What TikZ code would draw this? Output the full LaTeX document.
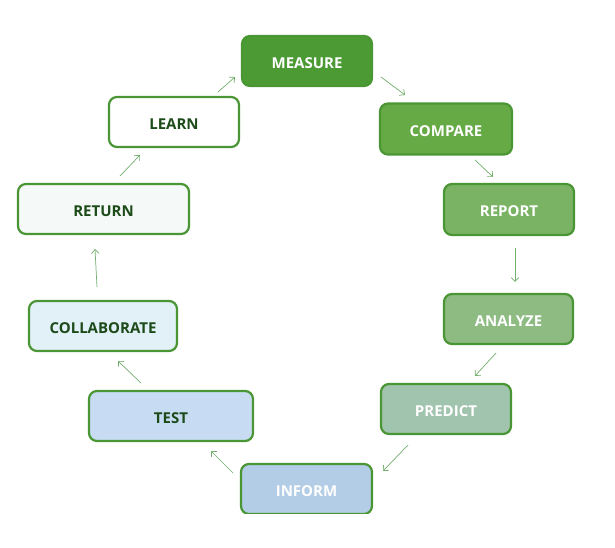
\documentclass[tikz,border=0pt]{standalone}
\usepackage{fontspec}
\setmainfont{Open Sans}
\usetikzlibrary{arrows.meta}
\definecolor{bordergreen}{HTML}{4A9634}
\definecolor{arrowgreen}{HTML}{72AE6C}
\definecolor{darktext}{HTML}{1C4A18}
\definecolor{cMeasure}{HTML}{4B9A33}
\definecolor{cCompare}{HTML}{66AA45}
\definecolor{cReport}{HTML}{7AB363}
\definecolor{cAnalyze}{HTML}{8DBB82}
\definecolor{cPredict}{HTML}{A0C4AE}
\definecolor{cInform}{HTML}{B3CDE6}
\definecolor{cTest}{HTML}{C7DCF3}
\definecolor{cCollab}{HTML}{E2F0F8}
\definecolor{cReturn}{HTML}{F5FAF8}
\definecolor{cLearn}{HTML}{FFFFFF}
\tikzset{
  stagebox/.style={draw=bordergreen, line width=2.2pt, rounded corners=8pt,
    inner sep=0pt, text height=14.5pt, text depth=0pt,
    font=\bfseries\fontsize{15}{18}\selectfont},
  lighttext/.style={text=white},
  darkbox/.style={text=darktext},
  flow/.style={draw=arrowgreen, line width=0.7pt, -{Straight Barb[length=4pt,width=7.5pt]}}
}
\begin{document}
\begin{tikzpicture}[x=1pt,y=-1pt]
\useasboundingbox (0,0) rectangle (615,548);
\begin{scope}
\clip (0,0) rectangle (615,513);
\node[stagebox, lighttext, fill=cMeasure, minimum width=130pt, minimum height=50pt] (measure) at (307,61) {MEASURE};
\node[stagebox, lighttext, fill=cCompare, minimum width=132pt, minimum height=51pt] (compare) at (446,129) {COMPARE};
\node[stagebox, lighttext, fill=cReport, minimum width=130pt, minimum height=51pt] (report) at (509,209.5) {REPORT};
\node[stagebox, lighttext, fill=cAnalyze, minimum width=129pt, minimum height=50pt] (analyze) at (508.5,319) {ANALYZE};
\node[stagebox, lighttext, fill=cPredict, minimum width=130pt, minimum height=50pt] (predict) at (446,409) {PREDICT};
\node[stagebox, lighttext, fill=cInform, minimum width=131pt, minimum height=50pt] (inform) at (306.5,489) {INFORM};
\node[stagebox, darkbox, fill=cTest, minimum width=164pt, minimum height=50pt] (test) at (171,416) {TEST};
\node[stagebox, darkbox, fill=cCollab, minimum width=148pt, minimum height=50pt] (collab) at (103,326) {COLLABORATE};
\node[stagebox, darkbox, fill=cReturn, minimum width=171pt, minimum height=50pt] (return) at (103.5,209) {RETURN};
\node[stagebox, darkbox, fill=cLearn, minimum width=130pt, minimum height=50pt] (learn) at (174,122) {LEARN};
\end{scope}
% connectors
\draw[flow] ([shift={(44,-30)}]learn.center) -- ([shift={(-72,16)}]measure.center);
\draw[flow] ([shift={(74,16)}]measure.center) -- ([shift={(-41,-34)}]compare.center);
\draw[flow] ([shift={(29,31)}]compare.center) -- ([shift={(-16,-32.5)}]report.center);
\draw[flow] ([shift={(6,38.5)}]report.center) -- ([shift={(6.5,-37)}]analyze.center);
\draw[flow] ([shift={(-12.5,34)}]analyze.center) -- ([shift={(29,-33)}]predict.center);
\draw[flow] ([shift={(-38,36)}]predict.center) -- ([shift={(76.5,-18)}]inform.center);
\draw[flow] ([shift={(-73.5,-16)}]inform.center) -- ([shift={(40,35)}]test.center);
\draw[flow] ([shift={(-30,-33)}]test.center) -- ([shift={(15,35)}]collab.center);
\draw[flow] ([shift={(-6,-39)}]collab.center) -- ([shift={(-8.5,40)}]return.center);
\draw[flow] ([shift={(16.5,-33)}]return.center) -- ([shift={(-34,33)}]learn.center);
\end{tikzpicture}
\end{document}
